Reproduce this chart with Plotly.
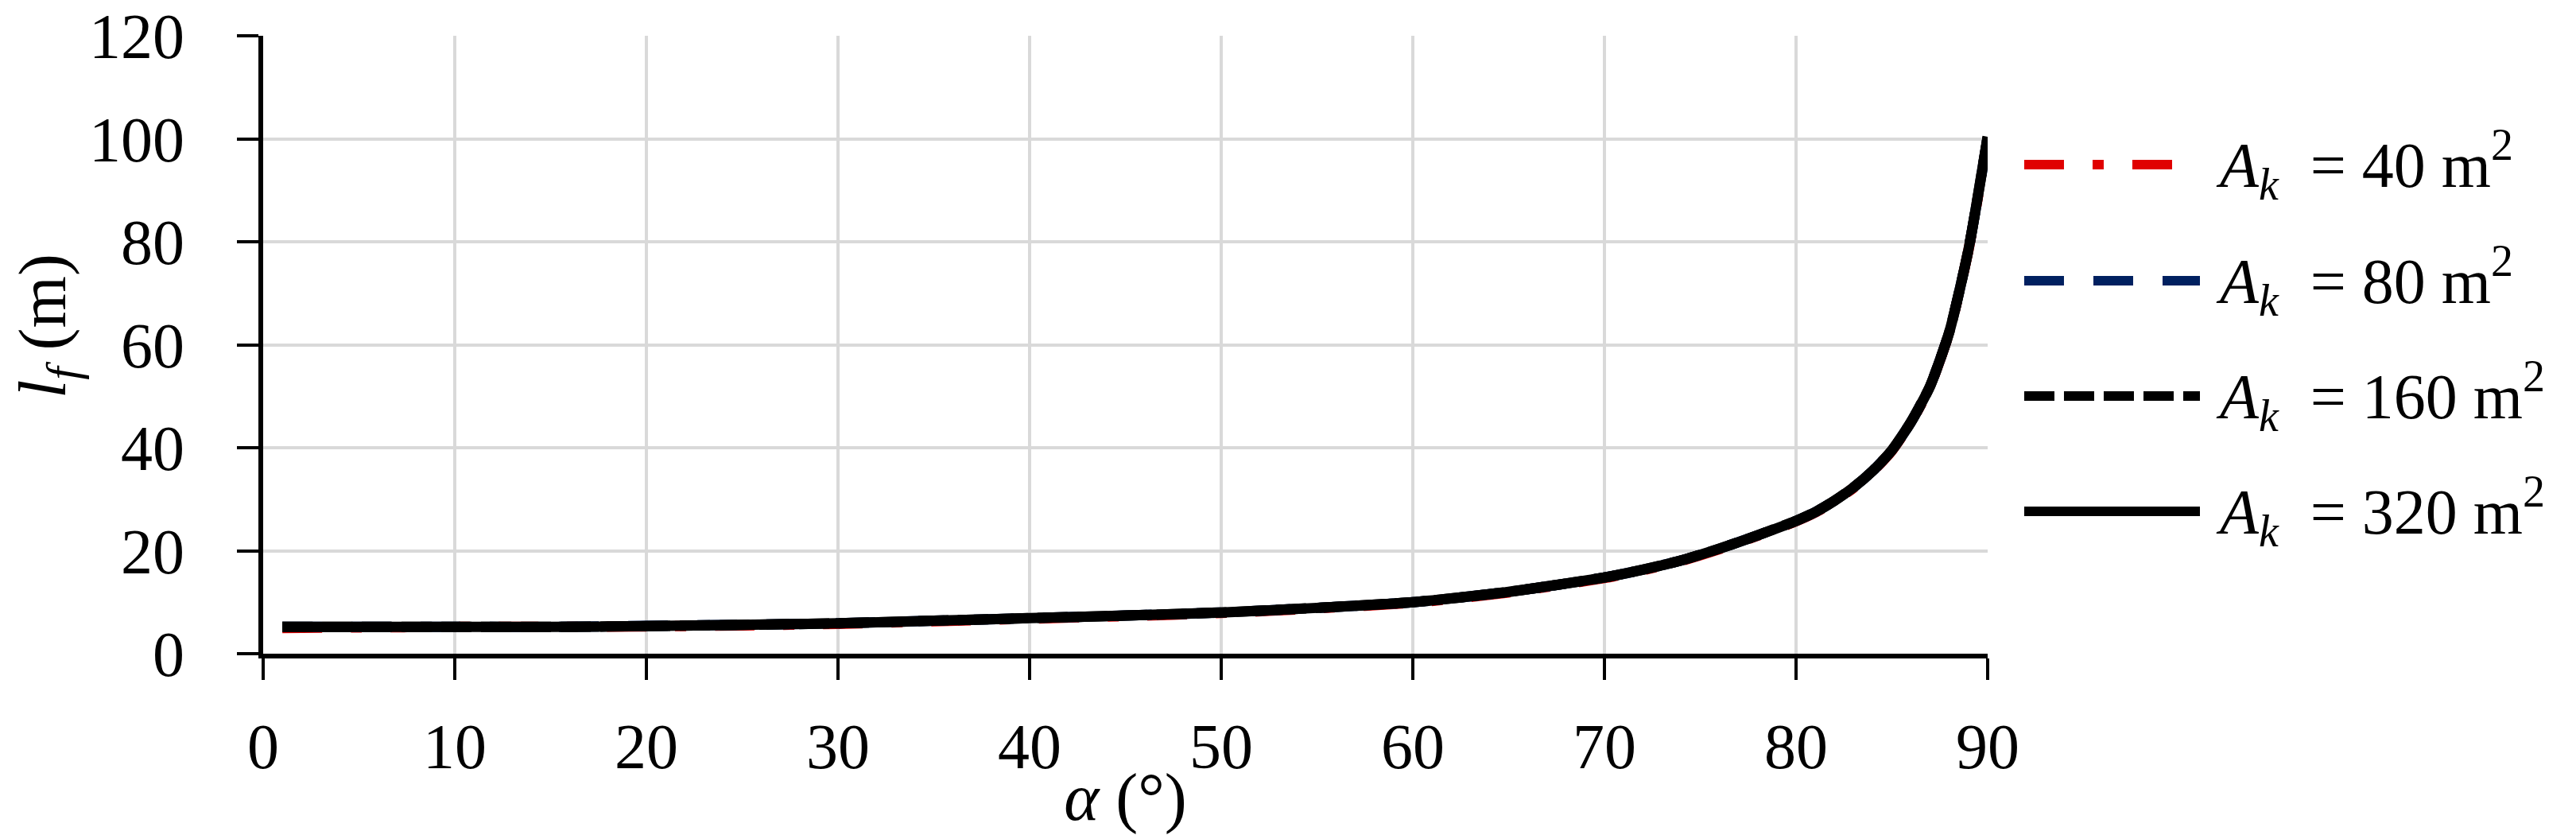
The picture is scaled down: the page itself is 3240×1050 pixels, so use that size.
import plotly.graph_objects as go

# angle alpha (deg) and fracture length l_f (m)
alpha = [1, 5, 10, 15, 20, 25, 30, 35, 40, 45, 50, 55, 60, 65, 70,
         72, 74, 76, 78, 80, 81, 82, 83, 84, 85, 86, 87, 88, 89, 90]

lf_40 = [5.0, 5.1, 5.2, 5.2, 5.3, 5.5, 5.8, 6.3, 6.8, 7.3, 7.9, 8.8, 9.9, 11.9, 14.7,
         16.2, 18.0, 20.3, 22.9, 25.7, 27.4, 29.6, 32.2, 35.4, 39.4, 44.9, 51.9, 62.4, 78.4, 100.0]
lf_80 = [5.2, 5.2, 5.2, 5.2, 5.4, 5.6, 5.9, 6.4, 6.9, 7.4, 8.0, 8.9, 10.0, 12.0, 14.8,
         16.3, 18.1, 20.4, 23.0, 25.8, 27.5, 29.7, 32.3, 35.5, 39.5, 45.0, 52.0, 62.5, 78.5, 100.2]
lf_160 = [5.2, 5.2, 5.2, 5.2, 5.35, 5.6, 5.9, 6.4, 6.9, 7.4, 8.0, 8.9, 10.0, 12.0, 14.8,
          16.3, 18.1, 20.4, 23.0, 25.8, 27.5, 29.7, 32.3, 35.5, 39.5, 45.0, 52.0, 62.5, 78.5, 100.3]
lf_320 = [5.2, 5.2, 5.2, 5.2, 5.35, 5.6, 5.9, 6.4, 6.9, 7.4, 8.0, 8.9, 10.0, 12.0, 14.8,
          16.3, 18.1, 20.4, 23.0, 25.8, 27.5, 29.7, 32.3, 35.5, 39.5, 45.0, 52.0, 62.5, 78.5, 100.4]

areas = ["40", "80", "160", "320"]
series = [lf_40, lf_80, lf_160, lf_320]
colors = ["#E00000", "#002060", "#000000", "#000000"]
dashes = ["50px,36px,14px,36px", "50px,37px", "38px,12px", "solid"]

FONT = "Liberation Serif"
LINE_W = 13

fig = go.Figure()
for area, ys, color, dash in zip(areas, series, colors, dashes):
    fig.add_trace(go.Scatter(
        x=alpha, y=ys, mode="lines", name=f"A_k = {area} m2",
        line=dict(color=color, width=LINE_W, dash=dash, shape="spline", smoothing=0.6),
        showlegend=False,
    ))

# hand-made legend to the right of the plot
shapes = []
annotations = []
row_y = [0.7915, 0.6036, 0.417, 0.2304]
for area, color, dash, y in zip(areas, colors, dashes, row_y):
    shapes.append(dict(
        type="line", xref="paper", yref="paper",
        x0=1.0212, x1=1.1231, y0=y, y1=y,
        line=dict(color=color, width=12, dash=dash),
    ))
    annotations.append(dict(
        xref="paper", yref="paper", x=1.1314, y=y,
        xanchor="left", yanchor="middle", showarrow=False,
        text=f"<i>A</i><sub><i>k</i></sub>\u00a0\u00a0= {area} m<sup>2</sup>",
        font=dict(family=FONT, size=80, color="black"),
    ))

# y-axis title as a rotated annotation so it can sit a bit above centre
annotations.append(dict(
    xref="paper", yref="paper", x=-0.125, y=0.53,
    xanchor="center", yanchor="middle", showarrow=False, textangle=-90,
    text="<i>l<sub>f</sub></i> (m)",
    font=dict(family=FONT, size=84, color="black"),
))

axis_common = dict(
    showline=True, linecolor="black", linewidth=6,
    showgrid=True, gridcolor="#D9D9D9", gridwidth=4,
    zeroline=False, automargin=False,
    ticks="outside", ticklen=27, tickwidth=4, tickcolor="black",
    tickfont=dict(family=FONT, size=80, color="black"),
)

fig.update_layout(
    width=3240, height=1050,
    margin=dict(l=331, r=740, t=45, b=228),
    paper_bgcolor="white", plot_bgcolor="white",
    font=dict(family=FONT, color="black"),
    shapes=shapes, annotations=annotations,
    xaxis=dict(range=[0, 90], dtick=10, ticklabelstandoff=15,
               title=dict(text="<i>α</i> (°)", font=dict(family=FONT, size=84), standoff=8),
               **axis_common),
    yaxis=dict(range=[0, 120], dtick=20, ticklabelstandoff=50, **axis_common),
)

fig.write_html("out.html", config={"displayModeBar": False},
               post_script="document.body.style.margin='0';")
